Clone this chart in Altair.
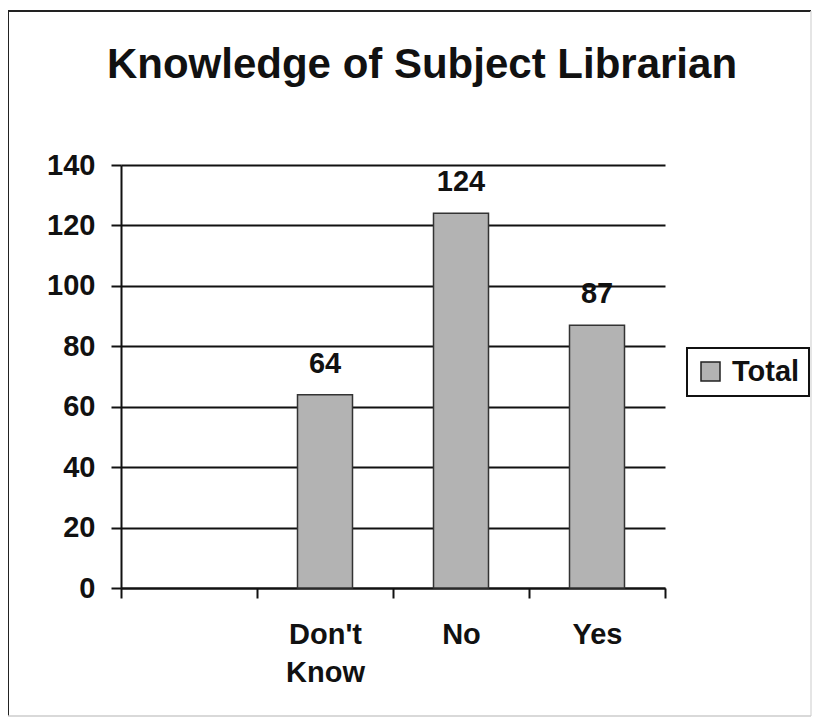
import altair as alt
import pandas as pd

# data
categories = ["Don't Know", "No", "Yes"]
totals = [64, 124, 87]
axis_domain = [" ", "Don't Know", "No", "Yes"]
y_ticks = [0, 20, 40, 60, 80, 100, 120, 140]
series_name = "Total"
title_text = "Knowledge of Subject Librarian"

df = pd.DataFrame({"category": categories, "value": totals, "series": [series_name] * len(categories)})

FONT = "Liberation Sans"
W, H = 544, 423

x_enc = alt.X(
    "category:N",
    scale=alt.Scale(domain=axis_domain, paddingInner=0, paddingOuter=0),
    sort=axis_domain,
    axis=alt.Axis(
        title=None,
        labelAngle=0,
        labelExpr="split(datum.label, ' ')",
        labelLineHeight=38,
        labelPadding=22,
        tickBand="extent",
        tickSize=10,
        grid=False,
    ),
)
y_enc = alt.Y(
    "value:Q",
    scale=alt.Scale(domain=[0, 140], nice=False),
    axis=alt.Axis(
        title=None,
        values=y_ticks,
        grid=True,
        gridColor="#111111",
        gridWidth=1.8,
        tickSize=10,
        labelPadding=16,
    ),
)

base = alt.Chart(df)

bars = base.mark_bar(size=55, stroke="#333333", strokeWidth=1.5).encode(
    x=x_enc,
    y=y_enc,
    color=alt.Color(
        "series:N",
        scale=alt.Scale(domain=[series_name], range=["#b3b3b3"]),
        legend=alt.Legend(
            title=None,
            orient="none",
            legendX=566,
            legendY=183,
            symbolType="square",
            symbolSize=361,
            symbolStrokeColor="#222222",
            symbolStrokeWidth=1.5,
            labelFontSize=29,
            labelFontWeight="bold",
            labelFont=FONT,
            labelColor="#111111",
            labelOffset=7,
            padding=9,
            strokeColor="#111111",
        ),
    ),
)

labels = base.mark_text(
    dy=-22, baseline="alphabetic", fontSize=29, fontWeight="bold", font=FONT, color="#111111"
).encode(x=alt.X("category:N", sort=axis_domain), y="value:Q", text="value:Q")

one = alt.Data(values=[{"f": 1}])
# decorative outer border of the chart area
border_top = alt.Chart(one).mark_rule(stroke="#222222", strokeWidth=2).encode(
    x=alt.value(-113), x2=alt.value(690), y=alt.value(-154)
)
border_left = alt.Chart(one).mark_rule(stroke="#222222", strokeWidth=2).encode(
    x=alt.value(-113), y=alt.value(-154), y2=alt.value(551)
)
border_right = alt.Chart(one).mark_rule(stroke="#dddddd", strokeWidth=1.5).encode(
    x=alt.value(690), y=alt.value(-154), y2=alt.value(551)
)
border_bottom = alt.Chart(one).mark_rule(stroke="#cccccc", strokeWidth=1.5).encode(
    x=alt.value(-113), x2=alt.value(690), y=alt.value(551)
)

chart = (
    alt.layer(border_top, border_left, border_right, border_bottom, bars, labels)
    .properties(
        width=W,
        height=H,
        padding={"left": 113, "top": 157, "right": 147, "bottom": 130},
        autosize=alt.AutoSizeParams(type="none"),
        title=alt.TitleParams(
            text=title_text,
            fontSize=42,
            fontWeight="bold",
            font=FONT,
            color="#111111",
            anchor="middle",
            dx=29,
            offset=-110,
            baseline="alphabetic",
        ),
    )
    .configure_axis(
        labelFont=FONT,
        labelFontSize=29,
        labelFontWeight="bold",
        labelColor="#111111",
        domainColor="#111111",
        domainWidth=2,
        tickColor="#111111",
        tickWidth=2,
    )
    .configure_view(stroke=None)
    .configure_legend(strokeWidth=2)
)

chart.save("out.html", embed_options={"renderer": "svg", "actions": False})
